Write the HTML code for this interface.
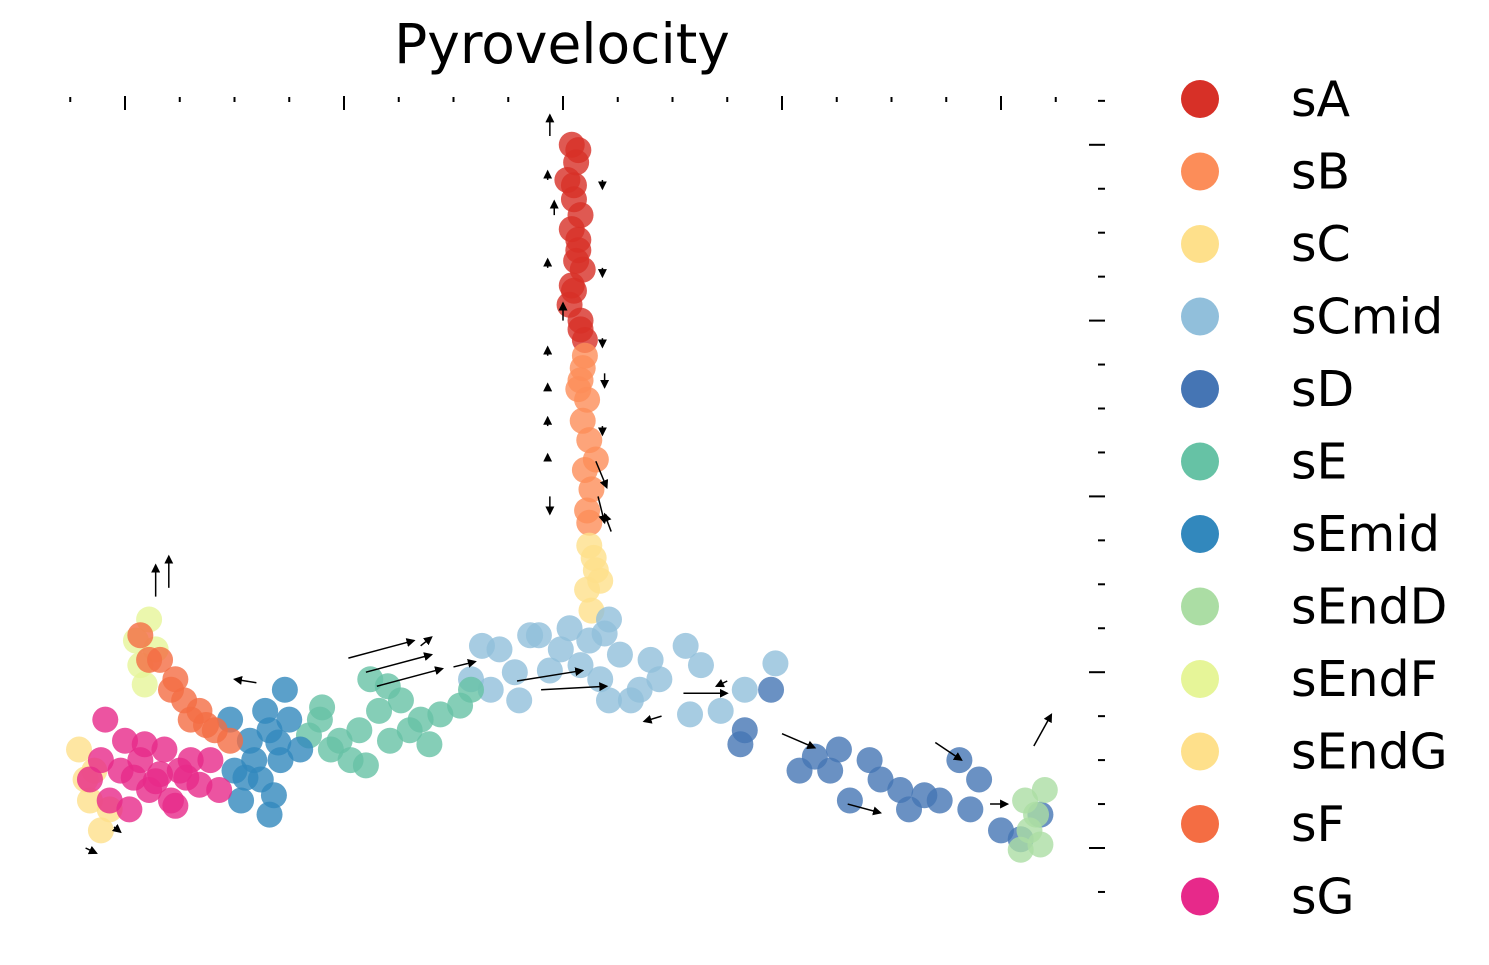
<!DOCTYPE html>
<html><head><meta charset="utf-8"><style>
body{margin:0;background:#fff;}
svg{display:block;font-family:"DejaVu Sans","Liberation Sans",sans-serif;}
</style></head><body>
<svg id="chart" width="1489" height="965">
<defs><marker id="ah" markerWidth="6" markerHeight="6" refX="5" refY="3" orient="auto"><path d="M0,0 L6,3 L0,6 z" fill="#000"/></marker></defs>
<text x="562" y="63" font-size="55" text-anchor="middle" fill="#000">Pyrovelocity</text>
<g id="ticks"></g>
<g id="points"></g>
<g id="arrows"></g>
<g id="legend"></g>
</svg>
<script>
const categories=["sA","sB","sC","sCmid","sD","sE","sEmid","sEndD","sEndF","sEndG","sF","sG"];
const colors=["#d73027","#fc8d59","#fee08b","#91bfdb","#4575b4","#66c2a5","#3288bd","#abdda4","#e6f598","#fee08b","#f46d43","#e7298a"];
const xTicks=[-2.5,0,2.5,5,7.5,10,12.5,15,17.5,20,22.5,25,27.5,30,32.5,35,37.5,40,42.5];
const yTicks=[-2.5,0,2.5,5,7.5,10,12.5,15,17.5,20,22.5,25,27.5,30,32.5,35,37.5,40,42.5];
const sA_x=[20.4,20.7,20.2,20.5,20.8,20.4,20.7,20.9,20.5,20.3,20.8,21.0,20.6,20.5,20.7,20.6,20.4,20.8];
const sA_y=[40.0,39.7,38.0,36.9,36.0,35.2,34.0,32.9,31.7,30.9,30.0,28.9,33.4,37.7,34.6,39.0,32.0,29.5];
const sB_x=[21.0,20.8,21.1,20.9,21.2,21.0,21.3,21.1,20.7,21.5,20.9,21.2];
const sB_y=[28.0,26.6,25.5,24.3,23.2,21.5,20.4,19.2,26.1,22.1,27.3,18.5];
const sC_x=[21.2,21.5,21.1,21.7,21.3,21.4];
const sC_y=[17.2,15.8,14.7,15.2,13.5,16.5];
const sCmid_x=[17.1,18.5,19.9,21.2,22.1,22.6,24.0,25.6,26.3,23.5,22.1,18.0,16.7,15.8,19.4,20.8,27.2,25.8,28.3,29.7,24.4,21.7,18.9,23.1,20.3,21.9,17.8,16.3];
const sCmid_y=[11.3,12.1,11.3,11.8,13.0,11.0,10.7,11.5,10.4,9.0,8.4,8.4,9.0,9.6,10.1,10.4,7.8,7.6,9.0,10.5,9.6,9.6,12.1,8.4,12.5,12.2,10.0,11.5];
const sD_x=[28.3,29.5,30.8,32.6,34.0,34.5,35.4,37.2,38.6,40.0,40.9,33.1,35.8,38.1,39.0,32.2,41.8,28.1,36.5,31.5];
const sD_y=[6.7,9.0,4.4,5.6,5.0,3.9,3.3,2.7,2.2,1.0,0.5,2.7,2.2,5.0,3.9,4.4,1.9,5.9,3.0,5.2];
const sE_x=[8.9,9.8,10.7,11.6,12.6,13.5,14.4,15.3,15.8,10.3,11.2,9.4,12.1,13.9,8.4,11.0,13.0,9.0,12.0];
const sE_y=[7.3,6.1,6.7,7.8,8.4,7.3,7.6,8.1,9.0,5.0,9.6,5.6,6.1,5.9,6.4,4.7,6.7,8.0,9.2];
const sEmid_x=[4.8,5.7,6.6,7.5,7.1,6.2,5.3,6.6,7.3,5.0,8.0,5.9,6.8,6.4,7.0,5.5];
const sEmid_y=[7.3,6.1,6.7,7.3,5.0,3.9,2.7,1.9,9.0,4.4,5.6,5.0,3.0,7.8,6.0,4.0];
const sEndD_x=[41.1,41.3,40.9,41.8,41.6,42.0];
const sEndD_y=[2.7,1.0,-0.1,0.2,1.9,3.3];
const sEndF_x=[0.5,1.1,0.7,1.4,0.9];
const sEndF_y=[11.8,13.0,10.4,11.3,9.3];
const sEndG_x=[-2.1,-1.8,-1.6,-1.1,-1.4,-0.7];
const sEndG_y=[5.6,3.9,2.7,1.0,4.4,2.2];
const sF_x=[0.7,1.6,2.3,2.7,3.4,4.1,3.0,4.8,1.1,2.1,3.7];
const sF_y=[12.1,10.7,9.6,8.4,7.8,6.7,7.3,6.1,10.7,9.0,7.0];
const sG_x=[-1.1,-0.2,0.7,1.6,2.5,3.4,4.3,-0.7,0.2,1.1,2.1,3.0,-0.9,0.0,0.9,1.8,3.9,-1.6,2.3,0.4,1.4,2.8];
const sG_y=[5.0,4.4,5.0,4.2,4.4,3.6,3.3,2.7,2.2,3.3,2.7,5.0,7.3,6.1,5.9,5.6,5.0,3.9,2.4,4.0,3.8,4.0];
const seriesX=[sA_x,sB_x,sC_x,sCmid_x,sD_x,sE_x,sEmid_x,sEndD_x,sEndF_x,sEndG_x,sF_x,sG_x];
const seriesY=[sA_y,sB_y,sC_y,sCmid_y,sD_y,sE_y,sEmid_y,sEndD_y,sEndF_y,sEndG_y,sF_y,sG_y];
const arrowX=[19.4,19.6,20.0,21.5,21.6,19.4,21.9,22.2,10.2,11.0,11.5,17.9,19.0,25.5,37.0,41.5,2.0,1.4,-1.8,-0.5,27.5,33.0,39.5,13.5,6.0,30.0,24.5,15.0,19.3,19.3,19.3,19.3,21.8,21.8,21.8,21.8,19.3,19.3];
const arrowY=[40.5,36.0,30.0,22.0,20.0,20.0,27.0,18.0,10.8,10.0,9.2,9.5,9.0,8.8,6.0,5.8,14.8,14.3,0.0,1.2,9.5,2.5,2.5,11.5,9.4,6.5,7.5,10.3,38.0,33.0,28.0,24.0,38.0,33.0,29.0,24.0,26.0,22.0];
const arrowU=[0.0,0.0,0.0,0.5,0.3,0.0,0.0,-0.3,3.0,3.0,3.0,3.0,3.0,2.0,1.2,0.8,0.0,0.0,0.5,0.3,-0.5,1.5,0.8,0.5,-1.0,1.5,-0.8,1.0,0,0,0,0,0,0,0,0,0,0];
const arrowV=[1.2,0.8,1.0,-1.5,-1.5,-1.0,-0.8,1.0,1.0,1.0,1.0,0.6,0.2,0.0,-1.0,1.8,1.8,1.8,-0.3,-0.3,-0.3,-0.5,0.0,0.5,0.2,-0.8,-0.3,0.3,0.5,0.5,0.5,0.5,-0.5,-0.5,-0.5,-0.5,0.4,0.4];
function xs(v){return 125+v*21.9;}
function ys(v){return 848-v*17.58;}
const NS="http://www.w3.org/2000/svg";
const tg=document.getElementById('ticks');
xTicks.forEach(t=>{const major=t%10===0;const l=document.createElementNS(NS,'line');
l.setAttribute('x1',xs(t));l.setAttribute('x2',xs(t));l.setAttribute('y1',major?96:97);l.setAttribute('y2',major?110:102);
l.setAttribute('stroke','#000');l.setAttribute('stroke-width',2);


tg.appendChild(l);});
yTicks.forEach(t=>{const major=t%10===0;const l=document.createElementNS(NS,'line');
l.setAttribute('x1',major?1089:1098);l.setAttribute('x2',1105);l.setAttribute('y1',ys(t));l.setAttribute('y2',ys(t));
l.setAttribute('stroke','#000');l.setAttribute('stroke-width',2);


tg.appendChild(l);});
const pg=document.getElementById('points');
seriesX.forEach((xsArr,i)=>{xsArr.forEach((v,j)=>{const c=document.createElementNS(NS,'circle');
c.setAttribute('cx',xs(v));c.setAttribute('cy',ys(seriesY[i][j]));c.setAttribute('r',13);
c.setAttribute('fill',colors[i]);c.setAttribute('fill-opacity',0.8);


pg.appendChild(c);});});
const ag=document.getElementById('arrows');
arrowX.forEach((v,i)=>{const l=document.createElementNS(NS,'line');
l.setAttribute('x1',xs(v));l.setAttribute('y1',ys(arrowY[i]));
l.setAttribute('x2',xs(v+arrowU[i]));l.setAttribute('y2',ys(arrowY[i]+arrowV[i]));
l.setAttribute('stroke','#000');l.setAttribute('stroke-width',1.5);l.setAttribute('marker-end','url(#ah)');


ag.appendChild(l);});
const lg=document.getElementById('legend');
categories.forEach((c,i)=>{const y=99+i*72.5;
const g=document.createElementNS(NS,'g');


const ci=document.createElementNS(NS,'circle');ci.setAttribute('cx',1200);ci.setAttribute('cy',y);ci.setAttribute('r',19);ci.setAttribute('fill',colors[i]);
const t=document.createElementNS(NS,'text');t.setAttribute('x',1291);t.setAttribute('y',y+17);t.setAttribute('font-size',49);t.textContent=c;
g.appendChild(ci);g.appendChild(t);lg.appendChild(g);});
</script>
</body></html>
